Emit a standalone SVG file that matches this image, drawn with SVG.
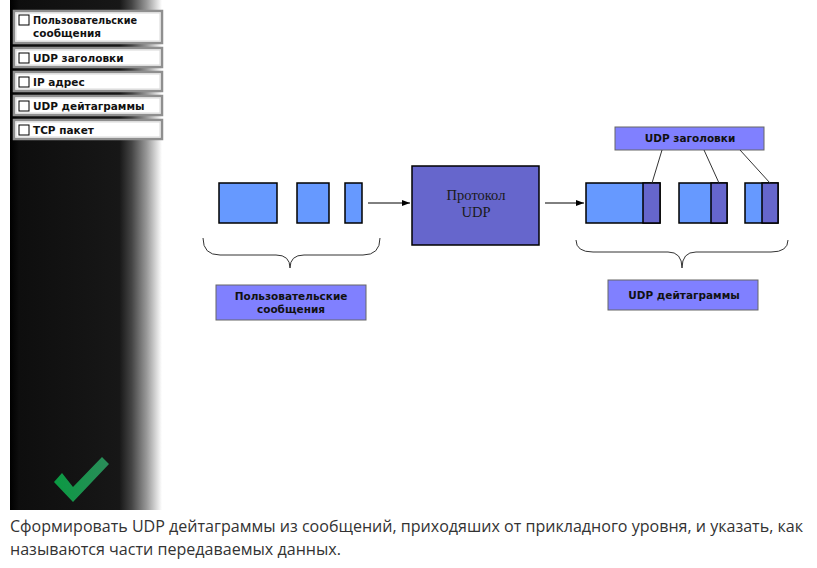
<svg xmlns="http://www.w3.org/2000/svg" width="817" height="568" viewBox="0 0 817 568">
<defs>
<linearGradient id="panel" x1="10" y1="0" x2="162" y2="0" gradientUnits="userSpaceOnUse">
<stop offset="0" stop-color="#000"/>
<stop offset="0.06" stop-color="#0e0e0e"/>
<stop offset="0.72" stop-color="#171717"/>
<stop offset="0.8" stop-color="#444"/>
<stop offset="0.9" stop-color="#999"/>
<stop offset="1" stop-color="#fff"/>
</linearGradient>
<linearGradient id="check" x1="54" y1="0" x2="109" y2="0" gradientUnits="userSpaceOnUse">
<stop offset="0" stop-color="#0a9a42"/>
<stop offset="1" stop-color="#2b8c5a"/>
</linearGradient>
<marker id="arr" markerWidth="8" markerHeight="6" refX="8" refY="3" orient="auto" markerUnits="userSpaceOnUse">
<path d="M0,0 L8,3 L0,6 Z" fill="#000"/>
</marker>
<style>
.item{fill:#fff;stroke:#8f8f8f;stroke-width:2.5}
.itemin{fill:none;stroke:#d8d8d8;stroke-width:1}
.cb{fill:#fff;stroke:#000;stroke-width:1}
.it{font-family:"DejaVu Sans","Liberation Sans",sans-serif;font-weight:bold;font-size:10.5px;fill:#111}
.blk{fill:#6699ff;stroke:#000;stroke-width:1.5}
.hdr{fill:#6666cc;stroke:#000;stroke-width:1.5}
.lbl{fill:#8080ff;stroke:#666;stroke-width:1}
.lt{font-family:"DejaVu Sans","Liberation Sans",sans-serif;font-weight:bold;font-size:10.5px;fill:#111;text-anchor:middle}
.con{stroke:#000;stroke-width:1;fill:none}
.brace{stroke:#333;stroke-width:1;fill:none}
.cap{font-family:"Open Sans","Liberation Sans",sans-serif;font-size:16px;fill:#333}
.pt{font-family:"Liberation Serif",serif;font-size:14.5px;fill:#1a1a1a;text-anchor:middle}
</style>
</defs>
<rect x="0" y="0" width="817" height="568" fill="#fff"/>
<g id="panel-bg">
<rect x="10" y="0" width="152" height="510" fill="url(#panel)"/>
</g>
<g id="item1">
<rect class="item" x="14" y="11" width="148" height="32"/>
<rect class="itemin" x="16" y="13" width="144" height="28"/>
<rect class="cb" x="19" y="15" width="10" height="10"/>
<text class="it" x="33" y="24" textLength="104" lengthAdjust="spacingAndGlyphs">Пользовательские</text>
<text class="it" x="33" y="37">сообщения</text>
</g>
<g id="item2">
<rect class="item" x="14" y="48" width="148" height="19"/>
<rect class="itemin" x="16" y="50" width="144" height="15"/>
<rect class="cb" x="19" y="53" width="10" height="10"/>
<text class="it" x="33" y="62">UDP заголовки</text>
</g>
<g id="item3">
<rect class="item" x="14" y="72" width="148" height="19"/>
<rect class="itemin" x="16" y="74" width="144" height="15"/>
<rect class="cb" x="19" y="77" width="10" height="10"/>
<text class="it" x="33" y="86">IP адрес</text>
</g>
<g id="item4">
<rect class="item" x="14" y="96" width="148" height="19"/>
<rect class="itemin" x="16" y="98" width="144" height="15"/>
<rect class="cb" x="19" y="101" width="10" height="10"/>
<text class="it" x="33" y="110">UDP дейтаграммы</text>
</g>
<g id="item5">
<rect class="item" x="14" y="120" width="148" height="19"/>
<rect class="itemin" x="16" y="122" width="144" height="15"/>
<rect class="cb" x="19" y="125" width="10" height="10"/>
<text class="it" x="33" y="134">TCP пакет</text>
</g>
<g id="checkmark">
<polygon points="54,482 62,473 73,487 102,457 109,464 73,502" fill="url(#check)"/>
</g>
<g id="messages">
<rect class="blk" x="219" y="183" width="58" height="40"/>
<rect class="blk" x="297" y="183" width="32" height="40"/>
<rect class="blk" x="345" y="183" width="17" height="40"/>
</g>
<g id="protocol">
<rect x="412" y="166" width="127" height="79" fill="#6666cc" stroke="#000" stroke-width="1.5"/>
<text class="pt" x="476" y="200">Протокол</text>
<text class="pt" x="476" y="217">UDP</text>
</g>
<g id="datagrams">
<rect class="blk" x="586" y="183" width="74" height="40"/>
<rect class="hdr" x="643" y="183" width="17" height="40"/>
<rect class="blk" x="679" y="183" width="48" height="40"/>
<rect class="hdr" x="711" y="183" width="16" height="40"/>
<rect class="blk" x="745" y="183" width="33" height="40"/>
<rect class="hdr" x="762" y="183" width="16" height="40"/>
</g>
<g id="label-headers">
<rect class="lbl" x="615" y="127" width="149" height="23"/>
<text class="lt" x="690" y="142">UDP заголовки</text>
</g>
<g id="label-messages">
<rect class="lbl" x="216" y="285" width="150" height="35"/>
<text class="lt" x="291" y="300">Пользовательские</text>
<text class="lt" x="291" y="313">сообщения</text>
</g>
<g id="label-datagrams">
<rect class="lbl" x="608" y="280" width="150" height="30"/>
<text class="lt" x="684" y="299">UDP дейтаграммы</text>
</g>
<g id="connectors">
<line class="con" x1="368" y1="203" x2="410" y2="203" marker-end="url(#arr)"/>
<line class="con" x1="545" y1="203" x2="584" y2="203" marker-end="url(#arr)"/>
<line x1="662" y1="150" x2="652" y2="183" stroke="#333" stroke-width="1"/>
<line x1="704" y1="150" x2="719" y2="183" stroke="#333" stroke-width="1"/>
<line x1="740" y1="150" x2="770" y2="183" stroke="#333" stroke-width="1"/>
<path class="brace" d="M203,238 Q203,255 220,255 L276,255 Q290,255 290,268 Q290,255 304,255 L363,255 Q380,255 380,238"/>
<path class="brace" d="M576,240 Q576,252 593,252 L668,252 Q682,252 682,268 Q682,252 696,252 L771,252 Q788,252 788,240"/>
</g>
<g id="caption">
<text class="cap" x="10" y="532" textLength="793" lengthAdjust="spacingAndGlyphs">Сформировать UDP дейтаграммы из сообщений, приходяших от прикладного уровня, и указать, как</text>
<text class="cap" x="10" y="555" textLength="331" lengthAdjust="spacingAndGlyphs">называются части передаваемых данных.</text>
</g>
</svg>
